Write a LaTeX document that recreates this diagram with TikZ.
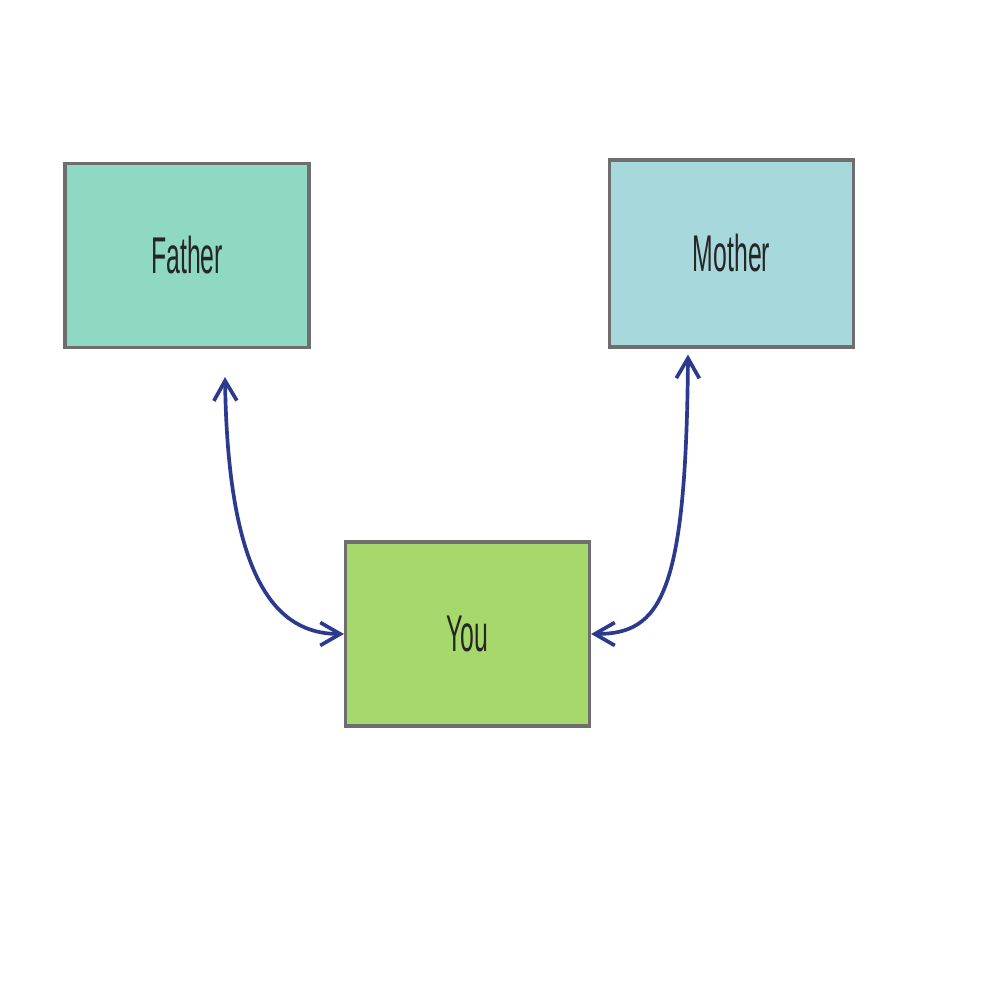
\documentclass[tikz,border=0pt]{standalone}
\usepackage{fontspec}
\setmainfont{Liberation Sans}
\usepackage{graphicx}
\usetikzlibrary{arrows.meta, calc}

\definecolor{fathergreen}{HTML}{8ED8C4}
\definecolor{motherblue}{HTML}{A6D8DC}
\definecolor{youlime}{HTML}{A6D86B}
\definecolor{boxgray}{HTML}{6E6E6E}
\definecolor{linkblue}{HTML}{2B3A8C}

\newcommand{\narrow}[1]{\scalebox{0.48}[1]{#1}}

\begin{document}
\begin{tikzpicture}[
            caja/.style={rectangle, draw=boxgray, line width=0.9pt, minimum width=2.44cm, minimum height=1.84cm, inner sep=0pt, text=black!85, font=\fontsize{14.7}{17}\selectfont},
            enlace/.style={draw=linkblue, line width=1.05pt, {Straight Barb[length=2mm, width=2.3mm]}-{Straight Barb[length=2mm, width=2.3mm]}}]

            \useasboundingbox (0,0) rectangle (9.93,10.03);

            \node[caja, fill=fathergreen] (Father) at (1.87, 7.475) {\narrow{Father}};
            \node[caja, fill=motherblue, minimum height=1.87cm] (Mother) at (7.315, 7.495) {\narrow{Mother}};
            \node[caja, fill=youlime] (You) at (4.675, 3.69) {\narrow{You}};

            \coordinate (fatherEnd) at ([xshift=3.8mm, yshift=-2.8mm]Father.south);
            \coordinate (motherEnd) at ([xshift=-4.35mm, yshift=-0.6mm]Mother.south);

            \draw[enlace] (fatherEnd) .. controls ++(0.03,-1.98) and ++(-0.7,0) .. (You.west);
            \draw[enlace] (motherEnd) .. controls ++(-0.02,-2.4) and ++(0.7,0) .. (You.east);
        \end{tikzpicture}
\end{document}
